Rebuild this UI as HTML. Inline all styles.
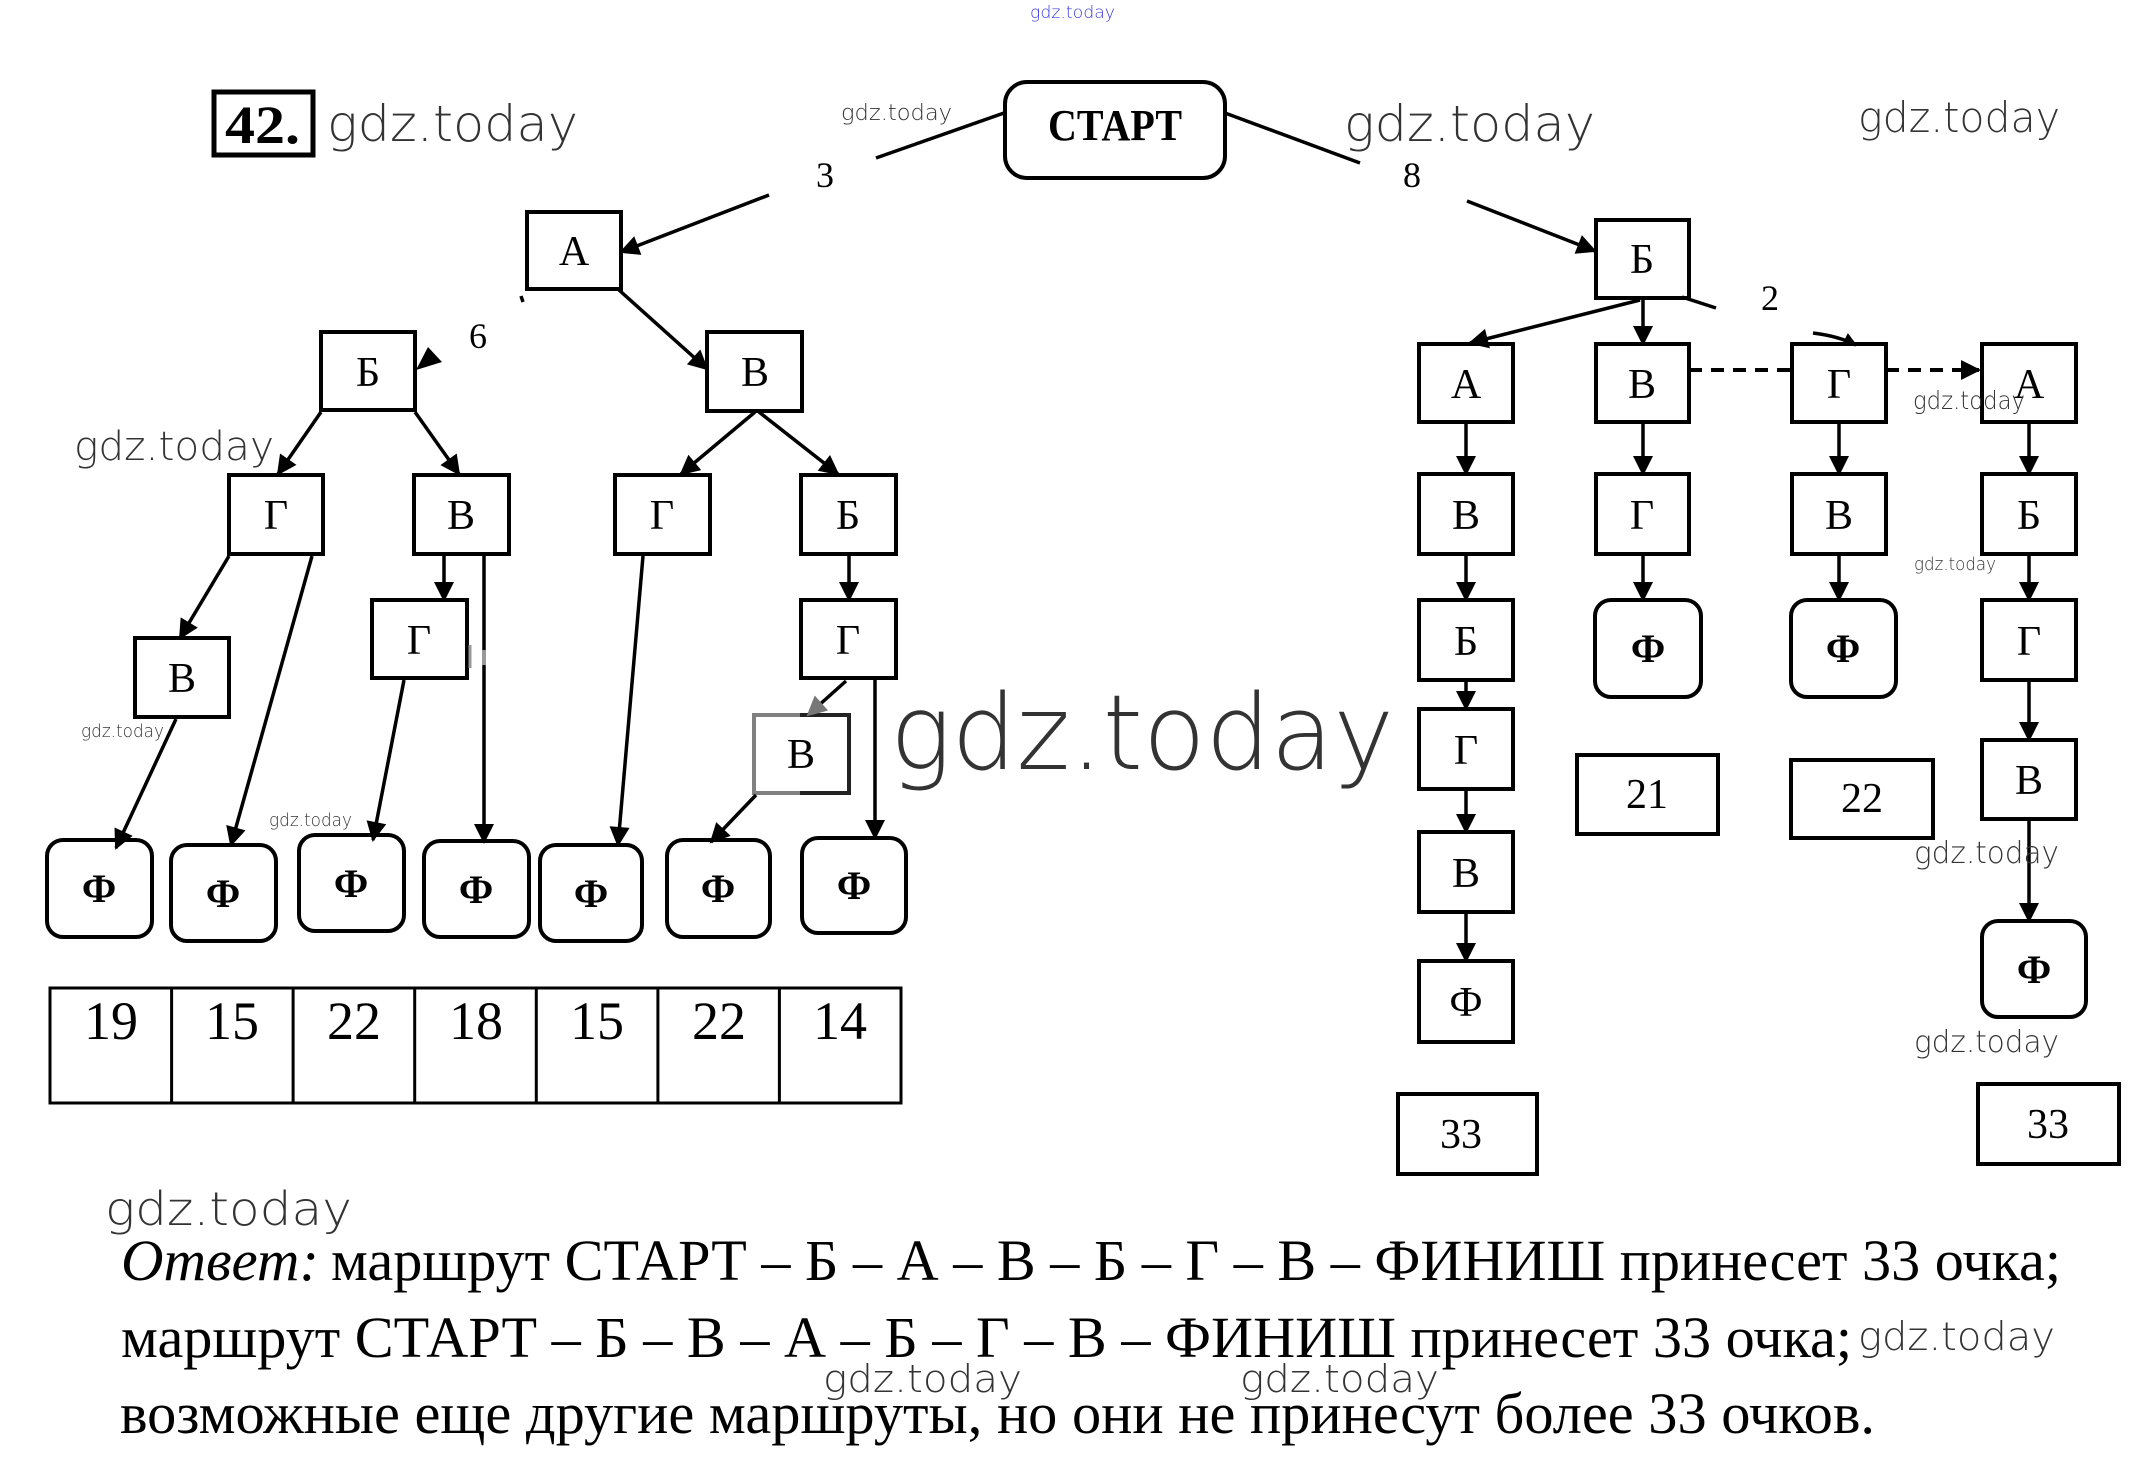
<!DOCTYPE html>
<html><head><meta charset="utf-8"><style>
html,body{margin:0;padding:0;background:#fff;}
svg{display:block;}
.b{fill:none;stroke:#000;stroke-width:4;}
.l{fill:none;stroke:#000;stroke-width:3.5;}
.t{font-family:"Liberation Serif","Noto Serif CJK SC",serif;font-size:42px;text-anchor:middle;fill:#000;}
.f{font-family:"Liberation Serif","Noto Serif CJK SC",serif;font-size:40px;font-weight:bold;text-anchor:middle;fill:#000;}
.n{font-family:"Liberation Serif","Noto Serif CJK SC",serif;font-size:54px;text-anchor:middle;fill:#000;}
.w{font-family:"DejaVu Sans","Liberation Sans",sans-serif;font-weight:200;fill:#333;}
.a{font-family:"Liberation Serif","Noto Serif CJK SC",serif;font-size:58px;fill:#000;}
</style></head><body>
<svg width="2143" height="1476" viewBox="0 0 2143 1476" xmlns="http://www.w3.org/2000/svg">
<defs>
<marker id="m" viewBox="0 0 10 10" refX="9" refY="5" markerWidth="22" markerHeight="20" markerUnits="userSpaceOnUse" orient="auto"><path d="M0,0L10,5L0,10z" fill="#000"/></marker>
<marker id="g" viewBox="0 0 10 10" refX="9" refY="5" markerWidth="22" markerHeight="20" markerUnits="userSpaceOnUse" orient="auto"><path d="M0,0L10,5L0,10z" fill="#777"/></marker>
<marker id="s" viewBox="0 0 10 10" refX="9" refY="5" markerWidth="16" markerHeight="14" markerUnits="userSpaceOnUse" orient="auto"><path d="M0,0L10,5L0,10z" fill="#000"/></marker>
</defs>

<!-- 42 label -->
<rect x="214" y="92" width="99" height="63" fill="none" stroke="#000" stroke-width="5"/>
<text x="225" y="143" font-family="Liberation Serif,serif" font-size="54" font-weight="bold" textLength="75" lengthAdjust="spacingAndGlyphs">42.</text>

<!-- START -->
<rect x="1005" y="82" width="220" height="96" rx="22" class="b"/>
<text x="1115" y="140" font-family="Liberation Serif,serif" font-size="44" font-weight="bold" text-anchor="middle" textLength="134" lengthAdjust="spacingAndGlyphs">СТАРТ</text>

<!-- left branch from START -->
<line x1="1004" y1="113" x2="876" y2="158" class="l"/>
<text x="825" y="187" font-family="Liberation Serif,serif" font-size="36" text-anchor="middle">3</text>
<line x1="769" y1="195" x2="621" y2="252" class="l" marker-end="url(#m)"/>

<!-- left tree -->
<rect x="527" y="212" width="94" height="77" class="b"/><text class="t" x="574" y="265">А</text>
<line x1="521" y1="296" x2="523" y2="302" class="l" stroke-width="2"/>
<text x="478" y="348" font-family="Liberation Serif,serif" font-size="36" text-anchor="middle">6</text>
<polygon points="416,370 428,347 442,362" fill="#000"/>
<rect x="321" y="332" width="94" height="78" class="b"/><text class="t" x="368" y="386">Б</text>
<line x1="619" y1="290" x2="707" y2="369" class="l" marker-end="url(#m)"/>
<rect x="707" y="332" width="95" height="79" class="b"/><text class="t" x="755" y="386">В</text>

<line x1="321" y1="412" x2="278" y2="474" class="l" marker-end="url(#m)"/>
<line x1="415" y1="412" x2="459" y2="474" class="l" marker-end="url(#m)"/>
<line x1="755" y1="412" x2="681" y2="474" class="l" marker-end="url(#m)"/>
<line x1="759" y1="412" x2="838" y2="474" class="l" marker-end="url(#m)"/>

<rect x="229" y="475" width="94" height="79" class="b"/><text class="t" x="276" y="529">Г</text>
<rect x="414" y="475" width="95" height="79" class="b"/><text class="t" x="461" y="529">В</text>
<rect x="615" y="475" width="95" height="79" class="b"/><text class="t" x="662" y="529">Г</text>
<rect x="801" y="475" width="95" height="79" class="b"/><text class="t" x="848" y="529">Б</text>

<rect x="135" y="638" width="94" height="79" class="b"/><text class="t" x="182" y="692">В</text>
<rect x="372" y="600" width="95" height="78" class="b"/><text class="t" x="419" y="654">Г</text>
<rect x="801" y="600" width="95" height="78" class="b"/><text class="t" x="848" y="654">Г</text>
<!-- gray В -->
<path d="M754,715 H849 V793 H754 Z" fill="none" stroke="#808080" stroke-width="4"/>
<path d="M800,715 H849 V793 H800" fill="none" stroke="#222" stroke-width="4"/>
<text class="t" x="801" y="768" fill="#333">В</text>

<line x1="229" y1="556" x2="180" y2="638" class="l" marker-end="url(#m)"/>
<line x1="312" y1="556" x2="231" y2="845" class="l" marker-end="url(#m)"/>
<line x1="176" y1="719" x2="116" y2="848" class="l" marker-end="url(#m)"/>
<line x1="444" y1="556" x2="444" y2="600" class="l" marker-end="url(#m)"/>
<line x1="484" y1="556" x2="484" y2="842" class="l" marker-end="url(#m)"/>
<line x1="404" y1="680" x2="373" y2="840" class="l" marker-end="url(#m)"/>
<line x1="643" y1="556" x2="618" y2="845" class="l" marker-end="url(#m)"/>
<line x1="849" y1="556" x2="849" y2="600" class="l" marker-end="url(#m)"/>
<line x1="846" y1="681" x2="808" y2="715" class="l" stroke="#777" marker-end="url(#g)"/>
<line x1="756" y1="795" x2="711" y2="842" class="l" marker-end="url(#m)"/>
<line x1="875" y1="676" x2="875" y2="838" class="l" marker-end="url(#m)"/>
<line x1="470" y1="645" x2="470" y2="668" stroke="#999" stroke-width="3"/>
<line x1="484" y1="650" x2="484" y2="665" stroke="#999" stroke-width="4"/>

<!-- Ф boxes left -->
<rect x="47" y="840" width="105" height="97" rx="16" class="b"/><text class="f" x="99" y="902">Ф</text>
<rect x="171" y="845" width="105" height="96" rx="16" class="b"/><text class="f" x="223" y="907">Ф</text>
<rect x="299" y="835" width="105" height="96" rx="16" class="b"/><text class="f" x="351" y="897">Ф</text>
<rect x="424" y="841" width="105" height="96" rx="16" class="b"/><text class="f" x="476" y="903">Ф</text>
<rect x="540" y="845" width="102" height="96" rx="16" class="b"/><text class="f" x="591" y="907">Ф</text>
<rect x="667" y="840" width="103" height="97" rx="16" class="b"/><text class="f" x="718" y="902">Ф</text>
<rect x="802" y="838" width="104" height="95" rx="16" class="b"/><text class="f" x="854" y="899">Ф</text>

<!-- table -->
<rect x="50" y="988" width="851" height="115" fill="none" stroke="#000" stroke-width="3"/>
<g stroke="#000" stroke-width="3">
<line x1="171.6" y1="988" x2="171.6" y2="1103"/>
<line x1="293.1" y1="988" x2="293.1" y2="1103"/>
<line x1="414.7" y1="988" x2="414.7" y2="1103"/>
<line x1="536.3" y1="988" x2="536.3" y2="1103"/>
<line x1="657.9" y1="988" x2="657.9" y2="1103"/>
<line x1="779.4" y1="988" x2="779.4" y2="1103"/>
</g>
<text class="n" x="111" y="1039">19</text>
<text class="n" x="232" y="1039">15</text>
<text class="n" x="354" y="1039">22</text>
<text class="n" x="476" y="1039">18</text>
<text class="n" x="597" y="1039">15</text>
<text class="n" x="719" y="1039">22</text>
<text class="n" x="840" y="1039">14</text>

<!-- right branch from START -->
<line x1="1225" y1="113" x2="1360" y2="163" class="l"/>
<text x="1412" y="187" font-family="Liberation Serif,serif" font-size="36" text-anchor="middle">8</text>
<line x1="1467" y1="201" x2="1595" y2="251" class="l" marker-end="url(#m)"/>

<rect x="1596" y="220" width="93" height="78" class="b"/><text class="t" x="1642" y="273">Б</text>
<line x1="1682" y1="297" x2="1716" y2="308" class="l"/>
<text x="1770" y="310" font-family="Liberation Serif,serif" font-size="36" text-anchor="middle">2</text>
<path d="M1813,333 Q1838,336 1856,345" class="l" marker-end="url(#s)"/>
<line x1="1640" y1="300" x2="1470" y2="343" class="l" marker-end="url(#m)"/>
<line x1="1643" y1="300" x2="1643" y2="344" class="l" marker-end="url(#m)"/>

<!-- row1 -->
<rect x="1419" y="344" width="94" height="78" class="b"/><text class="t" x="1466" y="398">А</text>
<rect x="1596" y="344" width="93" height="78" class="b"/><text class="t" x="1642" y="398">В</text>
<rect x="1792" y="344" width="94" height="78" class="b"/><text class="t" x="1839" y="398">Г</text>
<rect x="1982" y="344" width="94" height="78" class="b"/><text class="t" x="2029" y="398">А</text>
<line x1="1689" y1="370" x2="1792" y2="370" stroke="#000" stroke-width="4" stroke-dasharray="13,9"/>
<line x1="1886" y1="370" x2="1979" y2="370" stroke="#000" stroke-width="4" stroke-dasharray="13,9" marker-end="url(#m)"/>

<!-- row2 -->
<rect x="1419" y="474" width="94" height="80" class="b"/><text class="t" x="1466" y="529">В</text>
<rect x="1596" y="474" width="93" height="80" class="b"/><text class="t" x="1642" y="529">Г</text>
<rect x="1792" y="474" width="94" height="80" class="b"/><text class="t" x="1839" y="529">В</text>
<rect x="1982" y="474" width="94" height="80" class="b"/><text class="t" x="2029" y="529">Б</text>

<!-- row3 -->
<rect x="1419" y="600" width="94" height="80" class="b"/><text class="t" x="1466" y="655">Б</text>
<rect x="1595" y="600" width="106" height="97" rx="16" class="b"/><text class="f" x="1648" y="662">Ф</text>
<rect x="1791" y="600" width="105" height="97" rx="16" class="b"/><text class="f" x="1843" y="662">Ф</text>
<rect x="1982" y="600" width="94" height="80" class="b"/><text class="t" x="2029" y="655">Г</text>

<!-- col1 lower -->
<rect x="1419" y="709" width="94" height="80" class="b"/><text class="t" x="1466" y="764">Г</text>
<rect x="1419" y="832" width="94" height="80" class="b"/><text class="t" x="1466" y="887">В</text>
<rect x="1419" y="961" width="94" height="81" class="b"/><text class="t" x="1466" y="1016">Ф</text>
<!-- col4 lower -->
<rect x="1982" y="740" width="94" height="79" class="b"/><text class="t" x="2029" y="794">В</text>
<rect x="1982" y="921" width="104" height="96" rx="16" class="b"/><text class="f" x="2034" y="983">Ф</text>

<!-- vertical arrows -->
<g>
<line x1="1466" y1="422" x2="1466" y2="474" class="l" marker-end="url(#m)"/>
<line x1="1466" y1="554" x2="1466" y2="600" class="l" marker-end="url(#m)"/>
<line x1="1466" y1="680" x2="1466" y2="709" class="l" marker-end="url(#m)"/>
<line x1="1466" y1="789" x2="1466" y2="832" class="l" marker-end="url(#m)"/>
<line x1="1466" y1="912" x2="1466" y2="961" class="l" marker-end="url(#m)"/>
<line x1="1643" y1="422" x2="1643" y2="474" class="l" marker-end="url(#m)"/>
<line x1="1643" y1="554" x2="1643" y2="600" class="l" marker-end="url(#m)"/>
<line x1="1839" y1="422" x2="1839" y2="474" class="l" marker-end="url(#m)"/>
<line x1="1839" y1="554" x2="1839" y2="600" class="l" marker-end="url(#m)"/>
<line x1="2029" y1="422" x2="2029" y2="474" class="l" marker-end="url(#m)"/>
<line x1="2029" y1="554" x2="2029" y2="600" class="l" marker-end="url(#m)"/>
<line x1="2029" y1="680" x2="2029" y2="740" class="l" marker-end="url(#m)"/>
<line x1="2029" y1="819" x2="2029" y2="921" class="l" marker-end="url(#m)"/>
</g>

<!-- score boxes -->
<rect x="1577" y="755" width="141" height="79" class="b"/><text class="t" x="1647" y="808" fill="#444">21</text>
<rect x="1791" y="760" width="142" height="78" class="b"/><text class="t" x="1862" y="812">22</text>
<rect x="1398" y="1094" width="139" height="80" class="b"/><text class="t" x="1461" y="1148">33</text>
<rect x="1978" y="1084" width="141" height="80" class="b"/><text class="t" x="2048" y="1138">33</text>

<!-- watermarks -->
<text class="w" x="1030" y="18" font-size="17" style="fill:#3b3bdc" textLength="85" lengthAdjust="spacingAndGlyphs">gdz.today</text>
<text class="w" x="327" y="141" font-size="50" textLength="251" lengthAdjust="spacingAndGlyphs">gdz.today</text>
<text class="w" x="841" y="120" font-size="22" textLength="111" lengthAdjust="spacingAndGlyphs">gdz.today</text>
<text class="w" x="1344" y="141" font-size="50" textLength="251" lengthAdjust="spacingAndGlyphs">gdz.today</text>
<text class="w" x="1858" y="132" font-size="42" textLength="202" lengthAdjust="spacingAndGlyphs">gdz.today</text>
<text class="w" x="74" y="460" font-size="40" textLength="200" lengthAdjust="spacingAndGlyphs">gdz.today</text>
<text class="w" x="81" y="737" font-size="18" textLength="83" lengthAdjust="spacingAndGlyphs">gdz.today</text>
<text class="w" x="269" y="826" font-size="18" textLength="83" lengthAdjust="spacingAndGlyphs">gdz.today</text>
<text class="w" x="890" y="769" font-size="104" textLength="504" lengthAdjust="spacingAndGlyphs">gdz.today</text>
<text class="w" x="1913" y="409" font-size="25" textLength="112" lengthAdjust="spacingAndGlyphs">gdz.today</text>
<text class="w" x="1914" y="570" font-size="18" textLength="82" lengthAdjust="spacingAndGlyphs">gdz.today</text>
<text class="w" x="1914" y="863" font-size="30" textLength="145" lengthAdjust="spacingAndGlyphs">gdz.today</text>
<text class="w" x="1914" y="1052" font-size="30" textLength="145" lengthAdjust="spacingAndGlyphs">gdz.today</text>
<text class="w" x="105" y="1225" font-size="46" textLength="247" lengthAdjust="spacingAndGlyphs">gdz.today</text>
<text class="w" x="823" y="1392" font-size="38" textLength="199" lengthAdjust="spacingAndGlyphs">gdz.today</text>
<text class="w" x="1240" y="1392" font-size="38" textLength="199" lengthAdjust="spacingAndGlyphs">gdz.today</text>
<text class="w" x="1858" y="1350" font-size="39" textLength="197" lengthAdjust="spacingAndGlyphs">gdz.today</text>

<!-- answer -->
<text class="a" x="121" y="1280" font-style="italic" textLength="198" lengthAdjust="spacingAndGlyphs">Ответ:</text>
<text class="a" x="331" y="1280" textLength="1730" lengthAdjust="spacingAndGlyphs">маршрут СТАРТ – Б – А – В – Б – Г – В – ФИНИШ принесет 33 очка;</text>
<text class="a" x="121" y="1357" textLength="1731" lengthAdjust="spacingAndGlyphs">маршрут СТАРТ – Б – В – А – Б – Г – В – ФИНИШ принесет 33 очка;</text>
<text class="a" x="120" y="1433" textLength="1755" lengthAdjust="spacingAndGlyphs">возможные еще другие маршруты, но они не принесут более 33 очков.</text>
</svg>
</body></html>
